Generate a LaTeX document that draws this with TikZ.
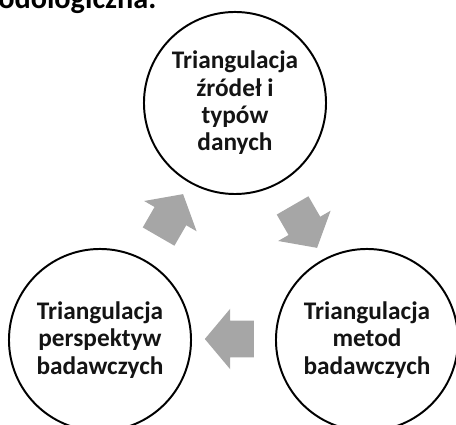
\documentclass[tikz,border=0pt]{standalone}
\usepackage{fontspec}
\setmainfont{Carlito}
\usetikzlibrary{arrows.meta,positioning,shapes.arrows}
\definecolor{arrowgray}{RGB}{166,166,166}
\definecolor{textdark}{RGB}{20,20,20}
\tikzset{
  stage/.style={draw=black,line width=1.4pt,circle,minimum size=4.55cm,inner sep=0pt,
    align=center,text=textdark,font=\fontsize{18}{19.4}\selectfont\bfseries},
  cyclearrow/.style={single arrow,fill=arrowgray,draw=none,minimum height=1.225cm,
    inner xsep=0pt,inner ysep=.45cm,single arrow head extend=.3cm,single arrow tip angle=100}
}
\begin{document}
\begin{tikzpicture}[x=.025cm,y=-.025cm]
\useasboundingbox (0,0) rectangle (456,425);
\clip (0,0) rectangle (456,425);
\node[anchor=base west,inner sep=0pt,font=\fontsize{21.5}{25}\selectfont\bfseries] (title) at (-2,9) {odologiczna.};
% stages of the cycle
\node[stage] (zrodla) at (235,103) {Triangulacja\\źródeł i\\typów\\danych};
\node[stage] (metody) at (367,340) {Triangulacja\\metod\\badawczych};
\node[stage] (perspektywy) at (100,340) {Triangulacja\\perspektyw\\badawczych};
% arrows between stages
\node[cyclearrow,rotate=-60] (zrodlaMetody) at (301,220) {};
\node[cyclearrow,rotate=180] (metodyPersp) at (237,339) {};
\node[cyclearrow,rotate=60] (perspZrodla) at (167,222) {};
\end{tikzpicture}
\end{document}
